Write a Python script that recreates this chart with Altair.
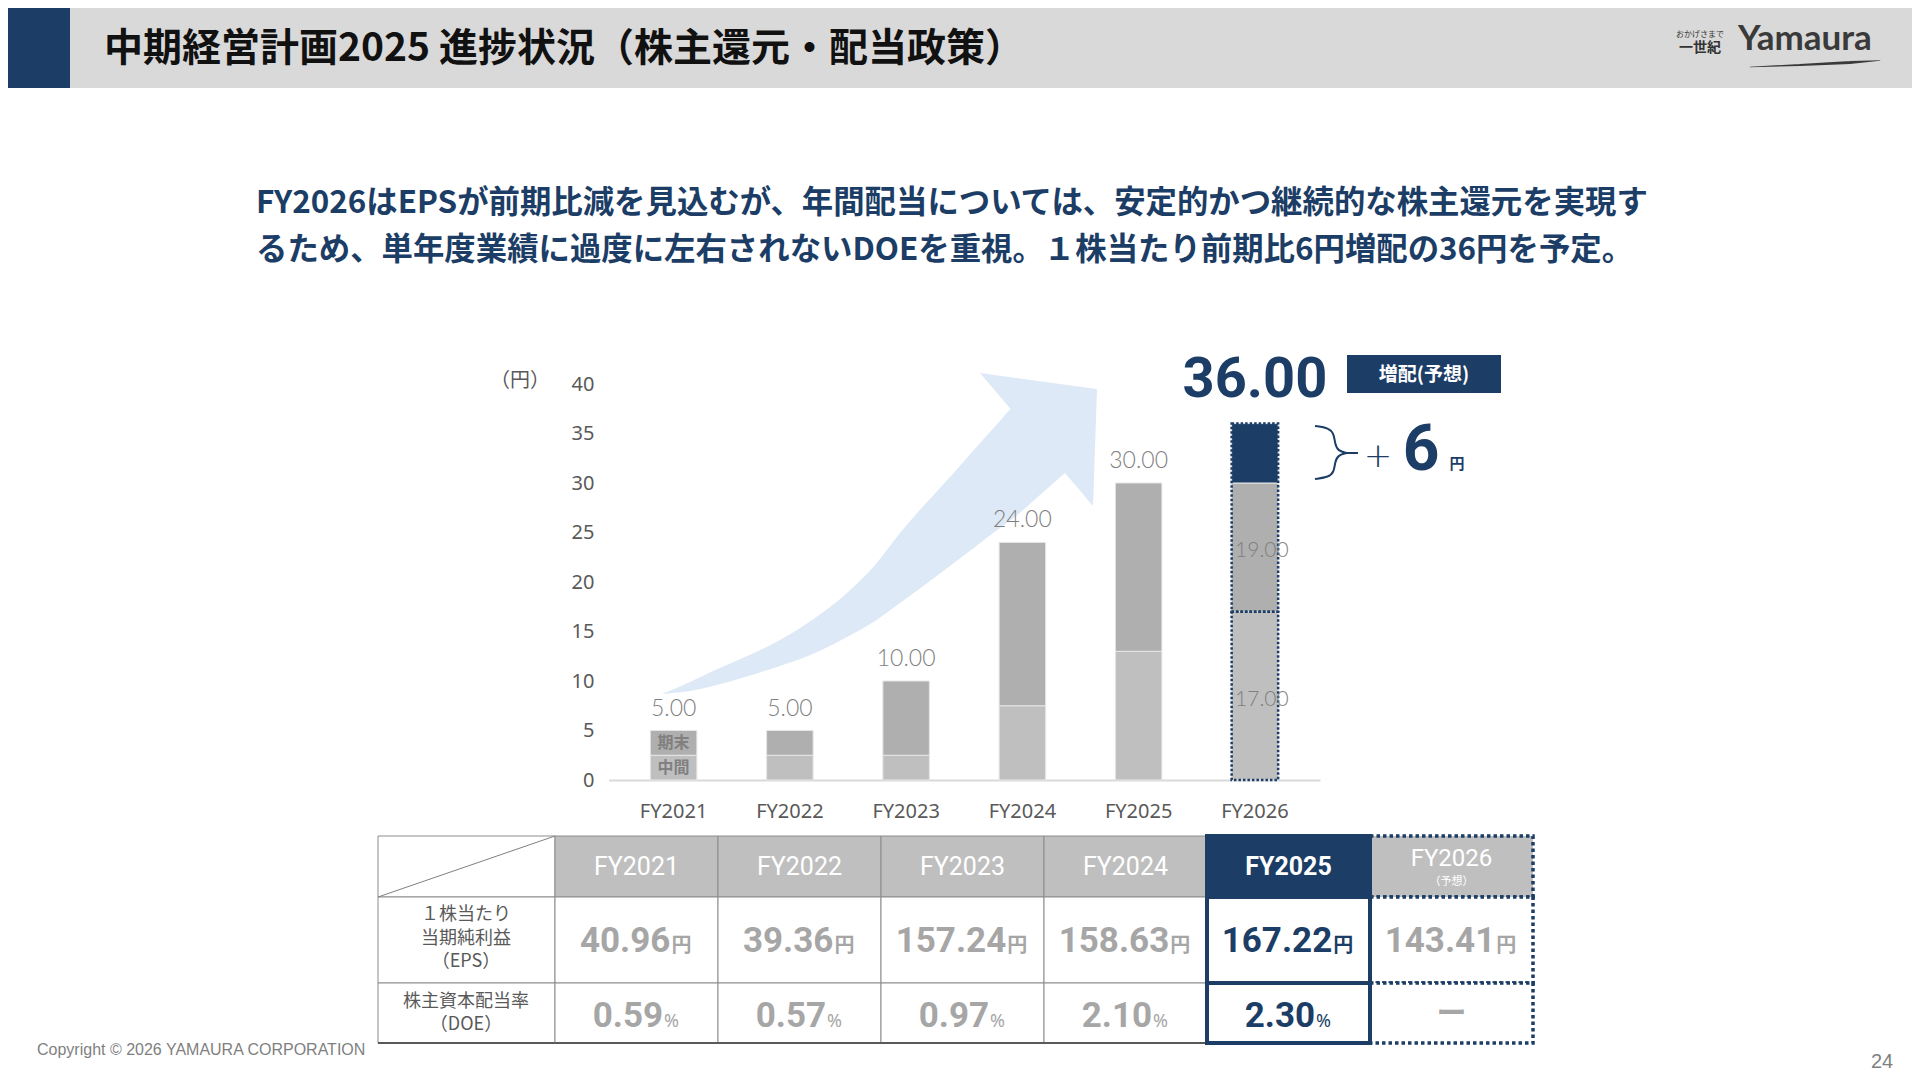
import altair as alt
import pandas as pd

# ------------------------------------------------------------------ data
years = ["FY2021", "FY2022", "FY2023", "FY2024", "FY2025", "FY2026"]
interim = [2.5, 2.5, 2.5, 7.5, 13.0, 17.0]          # 中間配当 (円)
year_end = [2.5, 2.5, 7.5, 16.5, 17.0, 19.0]        # 期末配当 (円)
increase_fy2026 = 6.0                               # 前期比増配 (円)
eps = ["40.96", "39.36", "157.24", "158.63", "167.22", "143.41"]
doe = ["0.59", "0.57", "0.97", "2.10", "2.30", "ー"]
y_ticks = [0, 5, 10, 15, 20, 25, 30, 35, 40]

title_text = "中期経営計画2025 進捗状況（株主還元・配当政策）"
lead_lines = [
    "FY2026はEPSが前期比減を見込むが、年間配当については、安定的かつ継続的な株主還元を実現す",
    "るため、単年度業績に過度に左右されないDOEを重視。１株当たり前期比6円増配の36円を予定。",
]
stub_eps = ["１株当たり", "当期純利益", "（EPS）"]
stub_doe = ["株主資本配当率", "（DOE）"]

# ------------------------------------------------------------------ styles
NAVY = "#1b3d66"
HDR_GRAY = "#d9d9d9"
ARROW = "#dde9f6"
LIGHT = "#bfbfbf"
DARK = "#afafaf"
TXT_GRAY = "#595959"
VAL_GRAY = "#a6a6a6"
JP = "Noto Sans CJK JP"
NUMF = "Roboto"

# slide frame: values are screenshot pixels (page margin 8px)
SX = alt.Scale(domain=[0, 1920], range=[-8, 1912], nice=False, zero=False)
SY = alt.Scale(domain=[0, 1080], range=[-8, 1072], nice=False, zero=False)


def X(f="x"):
    return alt.X(f"{f}:Q", scale=SX, axis=None)


def Y(f="y"):
    return alt.Y(f"{f}:Q", scale=SY, axis=None)


def rect_layer(rows, **kw):
    df = pd.DataFrame(rows, columns=["x", "x2", "y", "y2"])
    return alt.Chart(df).mark_rect(**kw).encode(
        x=X("x"), x2=alt.X2("x2"), y=Y("y"), y2=alt.Y2("y2"))


def text_layer(rows, **kw):
    df = pd.DataFrame(rows, columns=["x", "y", "t"])
    return alt.Chart(df).mark_text(**kw).encode(x=X("x"), y=Y("y"), text="t:N")


def line_layer(rows, **kw):
    df = pd.DataFrame(rows, columns=["part", "i", "x", "y"])
    return alt.Chart(df).mark_line(**kw).encode(
        x=X("x"), y=Y("y"), detail="part:N", order="i:Q")


S = []
# header
S.append(rect_layer([(0, 1920, 0, 88)], color=HDR_GRAY))
S.append(rect_layer([(0, 70, 0, 88)], color=NAVY))
S.append(text_layer([(104, 49, title_text)], align="left", baseline="middle",
                    font=JP, fontSize=39, fontWeight="bold", color="#111111"))
# logo
S.append(text_layer([(1700, 35, "おかげさまで")], align="center", baseline="middle",
                    font=JP, fontSize=8, color="#333333"))
S.append(text_layer([(1700, 48, "一世紀")], align="center", baseline="middle",
                    font=JP, fontSize=14, fontWeight="bold", color="#333333"))
S.append(text_layer([(1738, 50, "Yamaura")], align="left", baseline="alphabetic",
                    font="Lato", fontSize=35, fontWeight="bold", color="#3a3a3a"))
swoosh = pd.DataFrame({"x": [1750, 1800, 1850, 1880], "y": [67, 65, 62.5, 60.5],
                       "s": [0.5, 2.2, 3.0, 0.6]})
S.append(alt.Chart(swoosh).mark_trail(color="#3a3a3a").encode(
    x=X("x"), y=Y("y"), size=alt.Size("s:Q", scale=None, legend=None)))
# lead text
S.append(text_layer([(256, 204, lead_lines[0]), (256, 251, lead_lines[1])],
                    align="left", baseline="middle", font=JP, fontSize=31.4,
                    fontWeight="bold", color=NAVY))
# growth arrow (decoration)
body = pd.DataFrame({
    "x": [662, 690, 713, 745, 780, 815, 847, 875, 900, 950, 1000, 1011, 1040, 1065],
    "y": [694, 682, 671, 657, 640, 618, 593, 565, 533, 477, 421, 409, 400, 420],
    "y2": [694, 691, 686, 677, 666, 653, 637, 621, 603, 566, 528, 520, 495, 473],
})
S.append(alt.Chart(body).mark_area(color=ARROW, interpolate="monotone").encode(
    x=X("x"), y=Y("y"), y2=alt.Y2("y2")))
head = pd.DataFrame({"x": [980, 1093, 1097], "y": [373, 388.5, 389], "y2": [373, 506, 389]})
S.append(alt.Chart(head).mark_area(color=ARROW, interpolate="linear").encode(
    x=X("x"), y=Y("y"), y2=alt.Y2("y2")))
# unit label
S.append(text_layer([(520, 381, "（円）")], align="center", baseline="middle",
                    font=JP, fontSize=20, color=TXT_GRAY))
# 増配(予想) tag
S.append(rect_layer([(1347, 1501, 355, 393)], color=NAVY))
S.append(text_layer([(1424, 375, "増配(予想)")], align="center", baseline="middle",
                    font=JP, fontSize=19, fontWeight="bold", color="white"))
# brace and +6円
brace = [("u", 0, 1315, 426), ("u", 1, 1329, 428), ("u", 2, 1334, 434), ("u", 3, 1335, 444),
         ("u", 4, 1338, 451), ("u", 5, 1347, 453),
         ("l", 0, 1347, 453), ("l", 1, 1338, 455), ("l", 2, 1335, 462), ("l", 3, 1334, 472),
         ("l", 4, 1329, 477), ("l", 5, 1315, 479),
         ("t", 0, 1347, 453), ("t", 1, 1358, 453)]
S.append(line_layer(brace, interpolate="basis", color=NAVY, strokeWidth=2))
S.append(text_layer([(1378, 457, "+")], align="center", baseline="middle",
                    font="DejaVu Sans", fontSize=34, fontWeight=300, color=NAVY))
S.append(text_layer([(1421, 451, "6")], align="center", baseline="middle",
                    font="Roboto", fontSize=64, fontWeight="bold", color=NAVY))
S.append(text_layer([(1457, 464, "円")], align="center", baseline="middle",
                    font=JP, fontSize=15, fontWeight="bold", color=NAVY))
# table stub
S.append(rect_layer([(378, 555, 836, 897), (378, 555, 897, 983), (378, 555, 983, 1043)],
                    fill="white", stroke="#8c8c8c", strokeWidth=1))
S.append(rect_layer([(378, 555, 1042, 1044)], color="#595959"))
S.append(line_layer([("d", 0, 378, 897), ("d", 1, 555, 836)], color="#7f7f7f", strokeWidth=1))
S.append(text_layer([(466, 915, stub_eps[0]), (466, 939, stub_eps[1]), (466, 962, stub_eps[2]),
                     (466, 1002, stub_doe[0]), (466, 1025, stub_doe[1])],
                    align="center", baseline="middle", font=JP, fontSize=18, color=TXT_GRAY))
# footer
S.append(text_layer([(37, 1050, "Copyright © 2026 YAMAURA CORPORATION")], align="left",
                    baseline="middle", font="Liberation Sans", fontSize=16, color="#7f7f7f"))
S.append(text_layer([(1882, 1062, "24")], align="center", baseline="middle",
                    font="Liberation Sans", fontSize=20, color="#7f7f7f"))
slide = alt.layer(*S)

# ------------------------------------------------------------------ bar chart
rows = []
for i, yr in enumerate(years):
    total = interim[i] + year_end[i]
    rows.append((yr, "中間", 0.0, interim[i], LIGHT))
    if yr == "FY2026":
        rows.append((yr, "期末", interim[i], total - increase_fy2026, DARK))
        rows.append((yr, "増配", total - increase_fy2026, total, NAVY))
    else:
        rows.append((yr, "期末", interim[i], total, DARK))
bars_df = pd.DataFrame(rows, columns=["year", "seg", "y0", "y1", "c"])

XB = alt.Scale(domain=years, range=[600.5, 1312], paddingInner=0.6, paddingOuter=0.36)
YB = alt.Scale(domain=[0, 40], range=[772, 376], nice=False)
x_axis = alt.Axis(orient="bottom", offset=-292, title=None, labelAngle=0, grid=False,
                  domainColor="#d9d9d9", domainWidth=2, ticks=False, tickSize=0,
                  labelPadding=21, labelFontSize=20, labelColor=TXT_GRAY, labelFont="Noto Sans")
y_axis = alt.Axis(orient="left", offset=-598, title=None, values=y_ticks, grid=False,
                  domain=False, ticks=False, tickSize=0, labelPadding=12,
                  labelFontSize=20, labelColor=TXT_GRAY, labelFont="Noto Sans")


def bx():
    return alt.X("year:N", scale=XB, axis=x_axis)


def by(f):
    return alt.Y(f"{f}:Q", scale=YB, axis=y_axis)


bars = alt.Chart(bars_df).mark_bar(stroke="#e6e6e6", strokeWidth=1).encode(
    x=bx(), y=by("y0"), y2=alt.Y2("y1"), color=alt.Color("c:N", scale=None))

i26 = years.index("FY2026")
tot26 = interim[i26] + year_end[i26]
outline_df = pd.DataFrame({"year": ["FY2026", "FY2026"], "y0": [0.0, interim[i26]],
                           "y1": [interim[i26], tot26]})
outline = alt.Chart(outline_df).mark_bar(fillOpacity=0, stroke=NAVY, strokeWidth=2.5,
                                         strokeDash=[2.5, 2]).encode(
    x=bx(), y=by("y0"), y2=alt.Y2("y1"))

tot_df = pd.DataFrame({"year": years[:-1],
                       "v": [interim[i] + year_end[i] for i in range(len(years) - 1)]})
tot_df["t"] = tot_df["v"].map(lambda v: f"{v:.2f}")
totals = alt.Chart(tot_df).mark_text(baseline="middle", dy=-22, font="Lato", fontWeight=300,
                                     fontSize=23, color="#7f7f7f").encode(
    x=bx(), y=by("v"), text="t:N")

big_df = pd.DataFrame({"year": ["FY2026"], "v": [tot26], "t": [f"{tot26:.2f}"]})
big = alt.Chart(big_df).mark_text(baseline="middle", dy=-44, font="Roboto", fontWeight="bold",
                                  fontSize=56, color=NAVY).encode(
    x=bx(), y=by("v"), text="t:N")

seg_df = pd.DataFrame({
    "year": ["FY2026", "FY2026"],
    "v": [interim[i26] / 2, (interim[i26] + tot26 - increase_fy2026) / 2],
    "t": [f"{interim[i26]:.2f}", f"{year_end[i26]:.2f}"],
})
seglab = alt.Chart(seg_df).mark_text(baseline="middle", dx=7, dy=4, font="Lato", fontWeight=300,
                                     fontSize=21, color="#808080").encode(
    x=bx(), y=by("v"), text="t:N")

leg_df = pd.DataFrame({"year": ["FY2021", "FY2021"],
                       "v": [interim[0] / 2, interim[0] + year_end[0] / 2],
                       "t": ["中間", "期末"]})
leglab = alt.Chart(leg_df).mark_text(baseline="middle", font=JP, fontWeight="bold",
                                     fontSize=16, color="#808080").encode(
    x=bx(), y=by("v"), text="t:N")

bar_group = alt.layer(bars, outline, totals, big, seglab, leglab)

# ------------------------------------------------------------------ table
XT = alt.Scale(domain=years, range=[547, 1525], paddingInner=0, paddingOuter=0)
row_edges = {"head": (836, 897), "eps": (897, 983), "doe": (983, 1043)}

cell_rows = []
for yr in years:
    kind = "hl" if yr == "FY2025" else ("fc" if yr == "FY2026" else "n")
    for r, (t0, t1) in row_edges.items():
        if r == "head":
            fill = NAVY if kind == "hl" else LIGHT
        else:
            fill = "white"
        cell_rows.append((yr, r, t0, t1, fill, kind))
    if kind == "n":
        cell_rows.append((yr, "rule", 1042, 1044, "#595959", "rule"))
cells = pd.DataFrame(cell_rows, columns=["year", "row", "t0", "t1", "f", "kind"])


def cell_layer(df, **kw):
    return alt.Chart(df).mark_rect(**kw).encode(
        x=alt.X("year:N", scale=XT, axis=None), y=Y("t0"), y2=alt.Y2("t1"),
        fill=alt.Fill("f:N", scale=None))


T = [
    cell_layer(cells[cells.kind == "n"], stroke="#8c8c8c", strokeWidth=1),
    cell_layer(cells[cells.kind == "rule"]),
    cell_layer(cells[cells.kind == "fc"], stroke=NAVY, strokeWidth=3.5, strokeDash=[3.5, 3]),
    cell_layer(cells[cells.kind == "hl"], stroke=NAVY, strokeWidth=4),
]


def ttext(df, **kw):
    return alt.Chart(df).mark_text(**kw).encode(
        x=alt.X("year:N", scale=XT, axis=None), y=Y("y"), text="t:N",
        color=alt.Color("c:N", scale=None))


hdr = pd.DataFrame({"year": years[:-1], "y": [875] * 5, "t": years[:-1], "c": ["white"] * 5})
T.append(ttext(hdr[hdr.year != "FY2025"], baseline="alphabetic", font=NUMF, fontSize=25))
T.append(ttext(hdr[hdr.year == "FY2025"], baseline="alphabetic", font=NUMF, fontSize=25,
               fontWeight="bold"))
T.append(ttext(pd.DataFrame({"year": ["FY2026"], "y": [866], "t": ["FY2026"], "c": ["white"]}),
               baseline="alphabetic", font=NUMF, fontSize=24))
T.append(ttext(pd.DataFrame({"year": ["FY2026"], "y": [882], "t": ["（予想）"], "c": ["white"]}),
               baseline="middle", font=JP, fontSize=11))

val_rows = []
for i, yr in enumerate(years):
    col = NAVY if yr == "FY2025" else VAL_GRAY
    val_rows.append((yr, "eps", eps[i], "円", col, 952))
    val_rows.append((yr, "doe", doe[i], "%", col, 1027))
vals = pd.DataFrame(val_rows, columns=["year", "row", "t", "u", "c", "y"])
NUM_FS = 35
for (r, n), g in vals[vals.t != "ー"].groupby(["row", vals.t.str.len()]):
    digits = n - 1
    num_w = NUM_FS * (0.5615 * digits + 0.263)
    unit_w = 20 if r == "eps" else 15
    off = (num_w - unit_w) / 2
    T.append(ttext(g, align="right", baseline="alphabetic", dx=off, font=NUMF,
                   fontSize=NUM_FS, fontWeight="bold"))
    ug = g.drop(columns=["t"]).rename(columns={"u": "t"})
    if r == "eps":
        T.append(ttext(ug, align="left", baseline="alphabetic", dx=off + 1, font=JP,
                       fontSize=20, fontWeight="bold"))
    else:
        T.append(ttext(ug, align="left", baseline="alphabetic", dx=off + 1, font="Noto Sans",
                       fontSize=18))
dash = vals[vals.t == "ー"].assign(y=1014)
T.append(ttext(dash, align="center", baseline="middle", font=JP, fontSize=30,
               fontWeight="bold"))
table_group = alt.layer(*T)

chart = alt.layer(slide, bar_group, table_group).resolve_scale(
    x="independent", y="independent"
).properties(
    width=1904, height=1064, padding=0,
    autosize=alt.AutoSizeParams(type="none"), background="white"
).configure_view(stroke=None)

chart.save("out.html", embed_options={"renderer": "svg", "actions": False})
